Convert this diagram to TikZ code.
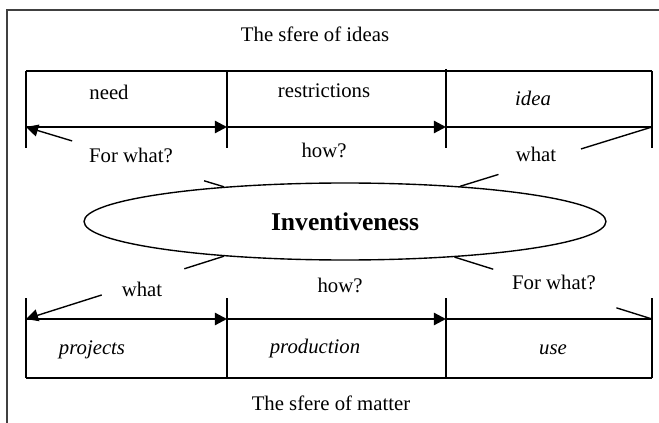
\documentclass[tikz,border=0pt]{standalone}
\usepackage{fontspec}
\setmainfont{Liberation Serif}
\usetikzlibrary{calc}
\usetikzlibrary{shapes.geometric}
\usetikzlibrary{arrows.meta}

\begin{document}
\begin{tikzpicture}[x=0.578pt, y=-0.578pt,
        font=\fontsize{12}{14}\selectfont,
        >={Triangle[length=7pt,width=7pt]},
        txt/.style={anchor=base, inner sep=0pt},
        box/.style={line width=0.9pt},
        flow/.style={line width=1.3pt},
        tick/.style={line width=0.8pt}]
            \useasboundingbox (0,0) rectangle (659,423);

            % Frame
            \draw[line width=0.6pt, black!75] (7,430) -- (7,10) -- (665,10);

            % Titles
            \node[txt] (ideas) at (315,42) {The sfere of ideas};
            \node[txt] (matter) at (331,410) {The sfere of matter};

            % Sfere of ideas
            \coordinate (i0) at (26,127);
            \coordinate (i1) at (227,127);
            \coordinate (i2) at (446,127);
            \coordinate (i3) at (652,127);
            \draw[box] (26,71) -- (652,71);
            \draw[box] (26,71) -- (26,148);
            \draw[box] (227,71) -- (227,148);
            \draw[box] (446,69) -- (446,148);
            \draw[box] (652,71) -- (652,148);
            \draw[flow, ->] (i0) -- (i1);
            \draw[flow, ->] (i1) -- (i2);
            \draw[flow] (i2) -- (i3);
            \node[txt] (need) at (109,100) {need};
            \node[txt] (restr) at (324,98) {restrictions};
            \node[txt] (idea) at (533,106) {\itshape idea};

            % Sfere of matter
            \coordinate (m0) at (26,319);
            \coordinate (m1) at (227,319);
            \coordinate (m2) at (446,319);
            \coordinate (m3) at (652,319);
            \draw[box] (26,378) -- (652,378);
            \draw[box] (26,298) -- (26,378);
            \draw[box] (227,298) -- (227,378);
            \draw[box] (446,298) -- (446,378);
            \draw[box] (652,298) -- (652,378);
            \draw[flow, ->] (m0) -- (m1);
            \draw[flow, ->] (m1) -- (m2);
            \draw[flow] (m2) -- (m3);
            \node[txt] (proj) at (92,354) {\itshape projects};
            \node[txt] (prod) at (315,353) {\itshape production};
            \node[txt] (use) at (553,354) {\itshape use};

            % Inventiveness
            \node[draw, ellipse, line width=0.8pt, inner sep=0pt,
                minimum width=301.7pt, minimum height=44.5pt,
                font=\fontsize{14.8}{17}\selectfont\bfseries] (inv) at (345,221.5) {Inventiveness};

            % Questions
            \node[txt] (q1) at (131,163) {For what?};
            \node[txt] (q2) at (324,158) {how?};
            \node[txt] (q3) at (536,162) {what};
            \node[txt] (q4) at (142,296) {what};
            \node[txt] (q5) at (340,292) {how?};
            \node[txt] (q6) at (554,289) {For what?};

            % Lines from the ellipse
            \draw[tick] (inv.164.4) -- ($(inv.164.4)!0.10!(i0)$);
            \draw[tick, ->] ($(inv.164.4)!0.767!(i0)$) -- (i0);
            \draw[tick] (inv.17) -- ($(inv.17)!0.20!(i3)$);
            \draw[tick] ($(inv.17)!0.63!(i3)$) -- (i3);
            \draw[tick] (inv.196.2) -- ($(inv.196.2)!0.20!(m0)$);
            \draw[tick, ->] ($(inv.196.2)!0.617!(m0)$) -- (m0);
            \draw[tick] (inv.342) -- ($(inv.342)!0.196!(m3)$);
            \draw[tick] ($(inv.342)!0.82!(m3)$) -- (m3);

        \end{tikzpicture}
\end{document}
